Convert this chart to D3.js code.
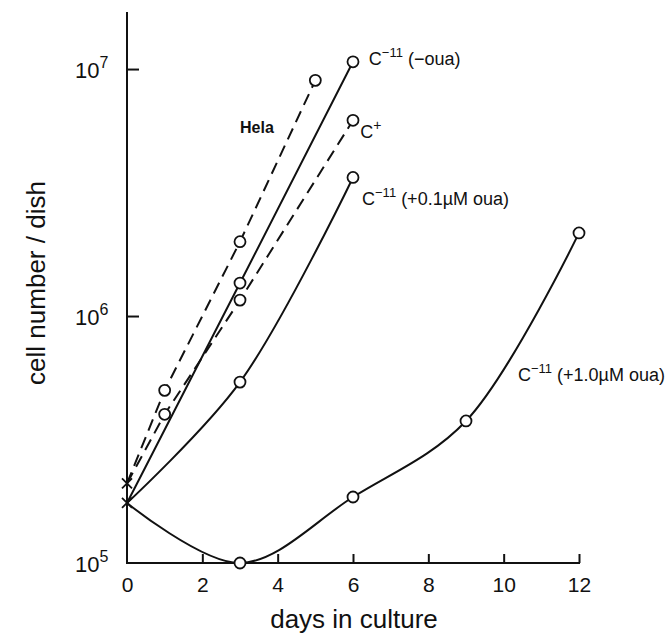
<!DOCTYPE html>
<html>
<head>
<meta charset="utf-8">
<script src="https://cdn.jsdelivr.net/npm/d3@7"></script>
<style>
  html, body { margin: 0; padding: 0; background: #fff; }
  #chart { display: block; }
  text { font-family: 'Liberation Sans', 'Noto Sans', sans-serif; fill: #111; }
</style>
</head>
<body>
<svg id="chart" width="669" height="635"></svg>
<script>
// ==================
// Data
// ==================
const helaDays = [0, 1, 3, 5];
const helaCells = [2.1e5, 5.0e5, 2.0e6, 9.0e6];

const cPlusDays = [0, 1, 3, 6];
const cPlusCells = [2.1e5, 4.0e5, 1.16e6, 6.2e6];

const c11NoOuaDays = [0, 3, 6];
const c11NoOuaCells = [1.75e5, 1.36e6, 1.07e7];

const c11Oua01Days = [0, 3, 6];
const c11Oua01Cells = [1.75e5, 5.4e5, 3.64e6];

const c11Oua10Days = [0, 3, 6, 9, 12];
const c11Oua10Cells = [1.75e5, 1.0e5, 1.85e5, 3.76e5, 2.17e6];

const xTicks = [0, 2, 4, 6, 8, 10, 12];
const yTickExponents = [5, 6, 7];

(function () {
  const svg = d3.select('#chart');

  const X_LEFT = 127;
  const X_RIGHT = 579;
  const Y_BOTTOM = 563;
  const Y_TOP = 12;

  const xScale = d3.scaleLinear()
    .domain([0, 12])
    .range([X_LEFT, X_RIGHT]);

  const yScale = d3.scaleLog()
    .domain([1e5, Math.pow(10, 7.231)])
    .range([Y_BOTTOM, Y_TOP]);

  const zip = (days, cells) => days.map((d, i) => ({ day: d, cells: cells[i] }));

  const series = [
    { name: 'hela', data: zip(helaDays, helaCells), dashed: true, curve: d3.curveLinear },
    { name: 'cplus', data: zip(cPlusDays, cPlusCells), dashed: true, curve: d3.curveLinear },
    { name: 'c11', data: zip(c11NoOuaDays, c11NoOuaCells), dashed: false, curve: d3.curveLinear },
    { name: 'c11-01', data: zip(c11Oua01Days, c11Oua01Cells), dashed: false, curve: d3.curveCatmullRom },
    { name: 'c11-10', data: zip(c11Oua10Days, c11Oua10Cells), dashed: false, curve: d3.curveCatmullRom },
  ];

  // ==================
  // Axes
  // ==================
  const xAxis = d3.axisBottom(xScale)
    .tickValues(xTicks)
    .tickSize(-9)
    .tickPadding(14)
    .tickFormat(d3.format('d'));

  const xAxisGroup = svg.append('g')
    .attr('transform', `translate(0, ${Y_BOTTOM})`)
    .call(xAxis);
  xAxisGroup.select('.domain').remove();
  xAxisGroup.selectAll('.tick line').attr('stroke', '#111').attr('stroke-width', 2);
  xAxisGroup.selectAll('.tick').filter(d => d === 0).select('line').remove();
  xAxisGroup.selectAll('.tick text')
    .attr('font-size', 21)
    .attr('fill', '#111');

  const yAxis = d3.axisLeft(yScale)
    .tickValues(yTickExponents.map(e => Math.pow(10, e)))
    .tickSize(-12)
    .tickFormat('');

  const yAxisGroup = svg.append('g')
    .attr('transform', `translate(${X_LEFT}, 0)`)
    .call(yAxis);
  yAxisGroup.select('.domain').remove();
  yAxisGroup.selectAll('.tick line').attr('stroke', '#111').attr('stroke-width', 2);
  yAxisGroup.selectAll('.tick').filter(d => d === 1e5).select('line').remove();

  // axis lines drawn by hand so they meet at the corner
  svg.append('path')
    .attr('d', d3.line()([[X_LEFT, Y_TOP], [X_LEFT, Y_BOTTOM], [X_RIGHT + 1, Y_BOTTOM]]))
    .attr('fill', 'none')
    .attr('stroke', '#111')
    .attr('stroke-width', 2);

  // decade labels 10^n
  const decadeLabels = svg.append('g').selectAll('text')
    .data(yTickExponents)
    .join('text')
    .attr('x', 75)
    .attr('y', d => yScale(Math.pow(10, d)) + 9)
    .attr('font-size', 22);
  decadeLabels.append('tspan').text('10');
  decadeLabels.append('tspan')
    .attr('dy', -10)
    .attr('font-size', 16)
    .text(d => d);

  svg.append('text')
    .attr('x', (X_LEFT + X_RIGHT) / 2 + 1)
    .attr('y', 628)
    .attr('text-anchor', 'middle')
    .attr('font-size', 26)
    .text('days in culture');

  svg.append('text')
    .attr('transform', `translate(45, 283) rotate(-90)`)
    .attr('text-anchor', 'middle')
    .attr('font-size', 26)
    .text('cell number / dish');

  // ==================
  // Series
  // ==================
  const lineFor = (curve) => d3.line()
    .x(d => xScale(d.day))
    .y(d => yScale(d.cells))
    .curve(curve);

  svg.append('g').selectAll('path')
    .data(series)
    .join('path')
    .attr('d', s => lineFor(s.curve)(s.data))
    .attr('fill', 'none')
    .attr('stroke', '#111')
    .attr('stroke-width', 2)
    .attr('stroke-dasharray', s => s.dashed ? '12,7' : null);

  // day 0 points are crosses, the rest open circles
  const allPoints = series.flatMap(s => s.data);
  const crosses = Array.from(new Set(allPoints.filter(p => p.day === 0).map(p => p.cells)));
  const circles = allPoints.filter(p => p.day !== 0);

  svg.append('g').selectAll('path')
    .data(crosses)
    .join('path')
    .attr('transform', d => `translate(${xScale(0)}, ${yScale(d)})`)
    .attr('d', 'M-5,-5L5,5M-5,5L5,-5')
    .attr('stroke', '#111')
    .attr('stroke-width', 1.8);

  svg.append('g').selectAll('circle')
    .data(circles)
    .join('circle')
    .attr('cx', d => xScale(d.day))
    .attr('cy', d => yScale(d.cells))
    .attr('r', 5.5)
    .attr('fill', '#fff')
    .attr('stroke', '#111')
    .attr('stroke-width', 1.8);

  // ==================
  // Series labels (placed in data coordinates)
  // ==================
  const labelText = ['Hela', 'C+', 'C-11 (-oua)', 'C-11 (+0.1µM oua)', 'C-11 (+1.0µM oua)'];
  const labelDays = [3.0, 6.19, 6.42, 6.24, 10.38];
  const labelCells = [5.5e6, 5.26e6, 1.04e7, 2.81e6, 5.46e5];

  const labels = svg.append('g').selectAll('text')
    .data(labelText)
    .join('text')
    .attr('x', (d, i) => xScale(labelDays[i]))
    .attr('y', (d, i) => yScale(labelCells[i]))
    .attr('font-size', 18)
    .attr('font-weight', (d, i) => i === 0 ? 'bold' : 'normal');

  labels.each(function (d) {
    const el = d3.select(this);
    if (d === 'Hela') {
      el.attr('font-size', 16).text(d);
      return;
    }
    if (d === 'C+') {
      el.append('tspan').text('C');
      el.append('tspan').attr('dy', -8).attr('font-size', 14).text('+');
      return;
    }
    const rest = d.slice(4);
    el.append('tspan').text('C');
    el.append('tspan').attr('dy', -8).attr('font-size', 13).text('\u221211');
    el.append('tspan').attr('dy', 8).text(rest.replace('-', '\u2212'));
  });
})();
</script>
</body>
</html>
